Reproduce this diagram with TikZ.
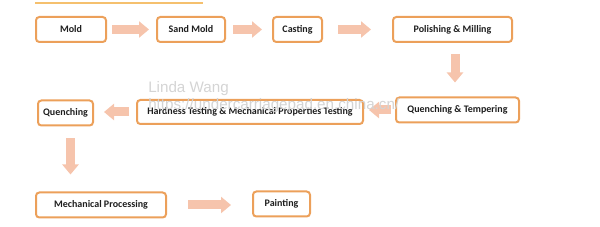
\documentclass[tikz,border=0pt]{standalone}
\usepackage{fontspec}
\setmainfont{Carlito}
\newfontfamily\wmfont{Liberation Sans}
\usetikzlibrary{arrows.meta,calc}
\definecolor{boxorange}{RGB}{236,160,90}
\definecolor{arrowpeach}{RGB}{246,196,172}
\definecolor{lineyellow}{RGB}{245,192,110}
\definecolor{wmgray}{RGB}{212,212,212}
\definecolor{boxtext}{RGB}{30,30,30}
\tikzset{
  stepbox/.style={draw=boxorange, line width=1.5pt, rounded corners=2.5pt, fill=white,
                  minimum height=18.75pt, inner sep=1pt, align=center, text=boxtext,
                  font=\fontsize{7.5}{9}\selectfont\bfseries},
  blockarrow/.style={draw=arrowpeach, line width=6.75pt,
                     -{Triangle[length=7.5pt, width=12pt, color=arrowpeach]}},
  watermark/.style={anchor=base west, inner sep=0pt, text=wmgray,
                    font=\wmfont\fontsize{11.4}{13}\selectfont},
}
\begin{document}
\begin{tikzpicture}[x=0.75pt, y=-0.75pt]
  \useasboundingbox (0,0) rectangle (600,227);
  % top rule
  \draw[lineyellow, line width=1.5pt] (35,3) -- (203,3);

  % first row
  \node[stepbox, minimum width=52.5pt]  (mold)   at (71,29.5)    {Mold};
  \node[stepbox, minimum width=51pt]    (sand)   at (191,29.5)   {Sand Mold};
  \node[stepbox, minimum width=36.75pt] (cast)   at (297.5,29.5) {Casting};
  \node[stepbox, minimum width=89.25pt] (polish) at (452.5,29.5) {Polishing \& Milling};

  % second row
  \node[stepbox, minimum width=92.25pt] (qt)     at (457.5,110)  {Quenching \& Tempering};
  \node[stepbox, minimum width=169.5pt, minimum height=18pt]
                                        (hard)   at (250,112)    {Hardness Testing \& Mechanical Properties Testing};
  \node[stepbox, minimum width=41.25pt] (quench) at (65.5,113)   {Quenching};

  % third row
  \node[stepbox, minimum width=97.5pt]  (mech)   at (101,205)    {Mechanical Processing};
  \node[stepbox, minimum width=42.75pt] (paint)  at (281.5,204)  {Painting};

  % arrows
  \draw[blockarrow, shorten <=3.75pt,  shorten >=5.25pt]  (mold.east)   -- (sand.west);
  \draw[blockarrow, shorten <=5.25pt,  shorten >=7.5pt]   (sand.east)   -- (cast.west);
  \draw[blockarrow, shorten <=11.25pt, shorten >=15.75pt] (cast.east)   -- (polish.west);
  \draw[blockarrow, shorten <=8.25pt,  shorten >=10.5pt]  ($(polish.south)+(2.5,0)$) -- ($(polish.south |- qt.north)+(2.5,0)$);
  \draw[blockarrow, shorten <=3pt,     shorten >=3.75pt]  (qt.west)     -- (hard.east |- qt.west);
  \draw[blockarrow, shorten <=5.25pt,  shorten >=7.5pt]   (hard.west)   -- (quench.east |- hard.west);
  \draw[blockarrow, shorten <=9pt,     shorten >=12.75pt] ($(quench.south)+(5,0)$) -- ($(quench.south |- mech.north)+(5,0)$);
  \draw[blockarrow, shorten <=15.75pt, shorten >=15.75pt] (mech.east)   -- (paint.west |- mech.east);

  % watermark
  \node[watermark] (wmname) at (148,93)  {Linda Wang};
  \node[watermark] (wmurl)  at (148,110) {https://undercarriagepad.en.china.cn/};
\end{tikzpicture}
\end{document}
